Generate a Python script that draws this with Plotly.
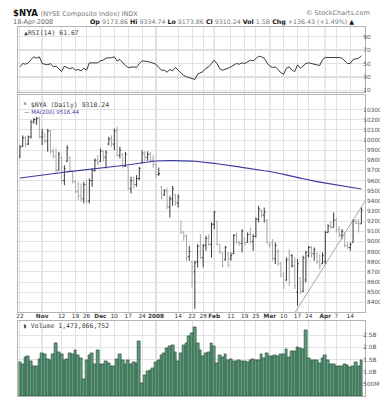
import pandas as pd
import plotly.graph_objects as go

# ---------------- data ----------------
holidays = ["2007-11-22", "2007-12-25", "2008-01-01", "2008-01-21", "2008-02-18", "2008-03-21"]
days = [d.strftime("%Y-%m-%d") for d in pd.bdate_range("2007-10-22", "2008-04-18")
        if d.strftime("%Y-%m-%d") not in holidays]
idx = list(range(len(days)))

opens = [9840, 9940, 10020, 9960, 10030, 10180, 10200, 10215, 10030, 10040,
         9990, 10090, 9890, 9840, 9700, 9830, 9600, 9790, 9830, 9687,
         9590, 9490, 9450, 9420, 9560, 9400, 9600, 9700, 9800, 9790,
         9890, 9830, 9960, 10010, 9960, 10090, 9850, 9860, 9740, 9736,
         9520, 9600, 9560, 9620, 9780, 9870, 9830, 9860, 9800, 9760,
         9660, 9540, 9460, 9500, 9340, 9420, 9460, 9380, 9200, 9090,
         9050, 8850, 8800, 8700, 8800, 8960, 8840, 8960, 9030, 8970,
         9170, 9200, 8970, 8890, 8820, 8880, 8830, 8880, 9060, 8990,
         8980, 9030, 8990, 9070, 9000, 9050, 9220, 9300, 9260, 9210,
         8960, 8990, 8830, 8900, 8780, 8680, 8620, 8820, 8860, 8760,
         8500, 8640, 8510, 8620, 8860, 8940, 8880, 8880, 8800, 8780,
         8800, 9090, 9150, 9140, 9210, 9120, 9060, 9080, 8960, 8940,
         8990, 9200, 9180, 9173.86]
highs = [9950, 10045, 10040, 10045, 10195, 10220, 10228, 10228, 10110, 10065,
         10110, 10097, 9916, 9916, 9883, 9834, 9752, 9949, 9834, 9687,
         9605, 9588, 9572, 9588, 9605, 9621, 9719, 9818, 9851, 9916,
         9900, 9900, 10031, 10047, 10113, 10129, 9933, 9867, 9883, 9736,
         9637, 9637, 9654, 9736, 9900, 9890, 9890, 9880, 9850, 9777,
         9728, 9547, 9515, 9531, 9449, 9547, 9465, 9465, 9203, 9105,
         9072, 8957, 8810, 8810, 8974, 9072, 8974, 9056, 9072, 9187,
         9302, 9203, 8974, 8892, 8957, 8892, 8892, 9072, 9088, 9006,
         9121, 9039, 9088, 9138, 9072, 9236, 9351, 9318, 9334, 9220,
         8990, 9023, 8990, 8925, 8794, 8695, 8842, 8925, 8875, 8842,
         8826, 8646, 8859, 8908, 8957, 8957, 8941, 8892, 8875, 8892,
         9105, 9170, 9203, 9285, 9236, 9154, 9121, 9088, 8990, 8990,
         9220, 9220, 9220, 9334.74]
lows = [9820, 9930, 9935, 9950, 10015, 10160, 10150, 10015, 9950, 9965,
        9885, 9867, 9818, 9670, 9700, 9572, 9555, 9785, 9687, 9572,
        9473, 9408, 9391, 9375, 9375, 9375, 9539, 9687, 9752, 9785,
        9785, 9719, 9949, 9933, 9900, 9834, 9818, 9719, 9736, 9506,
        9473, 9523, 9539, 9605, 9769, 9790, 9795, 9777, 9728, 9629,
        9646, 9416, 9449, 9318, 9236, 9351, 9351, 9334, 9072, 9006,
        8810, 8810, 8548, 8334, 8744, 8826, 8744, 8908, 8957, 8842,
        9121, 8957, 8875, 8744, 8810, 8744, 8810, 8875, 8974, 8957,
        8892, 8957, 8990, 8974, 8908, 9039, 9187, 9236, 9187, 8974,
        8941, 8810, 8777, 8761, 8646, 8531, 8613, 8564, 8744, 8531,
        8367, 8482, 8498, 8597, 8842, 8842, 8810, 8777, 8728, 8777,
        8777, 9088, 9121, 9138, 9088, 9039, 9023, 8941, 8925, 8908,
        8990, 9170, 9088, 9173.86]
closes = [9930, 10020, 9960, 10030, 10180, 10200, 10215, 10030, 10070, 9990,
          10090, 9890, 9840, 9700, 9860, 9600, 9720, 9920, 9700, 9590,
          9490, 9450, 9420, 9560, 9400, 9600, 9700, 9800, 9780, 9890,
          9830, 9880, 10010, 9960, 10090, 9850, 9900, 9740, 9860, 9520,
          9600, 9560, 9620, 9720, 9870, 9830, 9860, 9800, 9760, 9660,
          9670, 9430, 9500, 9340, 9420, 9520, 9380, 9440, 9090, 9050,
          8840, 8900, 8750, 8790, 8950, 8840, 8960, 9030, 8970, 9170,
          9290, 8970, 8900, 8760, 8940, 8770, 8860, 9060, 9000, 8980,
          9100, 8980, 9070, 9000, 9050, 9220, 9320, 9260, 9290, 8990,
          8970, 8830, 8960, 8780, 8660, 8560, 8820, 8600, 8760, 8560,
          8780, 8500, 8840, 8890, 8940, 8880, 8920, 8800, 8760, 8860,
          9090, 9150, 9140, 9210, 9120, 9060, 9100, 8960, 8940, 8970,
          9200, 9180, 9173.81, 9310.24]
ma200 = [9625, 9629, 9633, 9637, 9641, 9645, 9649, 9653, 9657, 9661, 9665,
         9668, 9671, 9674, 9677, 9680, 9683, 9686, 9689, 9692, 9695,
         9697, 9700, 9702, 9705, 9707, 9710, 9712, 9715, 9717, 9720,
         9724, 9728, 9732, 9736, 9740, 9744, 9748, 9752, 9756, 9760,
         9765, 9770, 9775, 9780, 9785, 9787, 9789, 9791, 9793, 9795,
         9795, 9796, 9796, 9797, 9797, 9797, 9798, 9798, 9798,
         9796, 9794, 9792, 9790, 9788, 9785, 9782, 9779, 9776, 9773, 9770,
         9766, 9763, 9759, 9755, 9752, 9748, 9744,
         9739, 9735, 9730, 9725, 9721, 9716, 9711,
         9708, 9704, 9701, 9697, 9694, 9690,
         9684, 9678, 9673, 9667, 9661, 9656, 9650,
         9644, 9637, 9631, 9624, 9618, 9611, 9605,
         9600, 9595, 9590, 9585, 9580, 9575, 9570,
         9565, 9560, 9555, 9550, 9545, 9540,
         9536, 9532, 9528, 9524, 9520, 9516.44]
rsi14 = [45, 50, 49, 51, 56, 60, 58, 60, 50, 49,
         48, 50, 45, 46, 42, 38, 46, 44, 42, 44,
         40, 41, 39, 43, 40, 51, 51, 52, 51, 54,
         55, 58, 58, 59, 60, 54, 56, 51, 47, 44,
         45, 45, 44, 50, 54, 54, 53, 52, 50, 49,
         44, 40, 40, 37, 41, 39, 44, 40, 35, 32,
         30, 29, 27, 26, 34, 36, 38, 43, 45, 50,
         55, 50, 42, 40, 41, 43, 45, 47, 50, 49,
         51, 50, 53, 55, 54, 58, 61, 60, 58, 51,
         46, 44, 45, 41, 36, 34, 43, 45, 40, 38,
         48, 43, 46, 50, 51, 50, 49, 48, 47, 56,
         59, 59, 59, 60, 60, 59, 58, 54, 50, 50,
         56, 57, 58, 61.67]
volume_b = [1.40, 1.32, 1.59, 1.63, 1.43, 1.22, 1.22, 1.53, 1.74, 1.73,
            1.53, 1.49, 1.70, 2.18, 1.81, 1.73, 1.49, 1.53, 1.77, 1.70,
            1.86, 1.67, 1.55, 0.67, 1.49, 1.67, 1.77, 1.32, 1.86, 1.32,
            1.32, 1.43, 1.36, 1.22, 1.22, 1.53, 1.73, 1.45, 1.32, 1.49,
            1.29, 1.40, 1.36, 2.25, 0.54, 0.85, 1.02, 1.04, 1.15, 1.40,
            1.49, 1.67, 1.77, 1.97, 2.04, 2.08, 1.81, 1.43, 1.77, 2.08,
            2.18, 2.45, 2.59, 2.82, 2.18, 1.90, 1.63, 1.77, 1.81, 2.18,
            2.04, 1.36, 1.67, 1.59, 1.73, 1.45, 1.53, 1.43, 1.43, 1.45,
            1.43, 1.43, 1.40, 1.49, 1.53, 1.45, 1.45, 1.70, 1.56, 1.77,
            1.63, 1.63, 1.67, 1.63, 1.70, 1.73, 1.94, 1.59, 1.84, 1.84,
            2.00, 1.97, 1.94, 2.72, 1.56, 1.49, 1.45, 1.45, 1.36, 1.56,
            1.67, 1.45, 1.29, 1.29, 1.22, 1.22, 1.22, 1.29, 1.26, 1.18,
            1.22, 1.40, 1.22, 1.474]

tick_dates = ["2007-10-22", "2007-11-01", "2007-11-12", "2007-11-19", "2007-11-26",
              "2007-12-03", "2007-12-10", "2007-12-17", "2007-12-24", "2008-01-02",
              "2008-01-14", "2008-01-22", "2008-01-28", "2008-02-01", "2008-02-11",
              "2008-02-19", "2008-02-25", "2008-03-03", "2008-03-10", "2008-03-17",
              "2008-03-24", "2008-04-01", "2008-04-07", "2008-04-14"]
tick_labels = ["22", "<b>Nov</b>", "12", "19", "26", "<b>Dec</b>", "10", "17", "24",
               "<b>2008</b>", "14", "22", "28", "<b>Feb</b>", "11", "19", "25",
               "<b>Mar</b>", "10", "17", "24", "<b>Apr</b>", "7", "14"]
month_dates = ["2007-11-01", "2007-12-03", "2008-01-02", "2008-02-01", "2008-03-03", "2008-04-01"]

price_ticks = list(range(8400, 10400, 100))
rsi_ticks = [10, 30, 50, 70, 90]
vol_ticks = [0.5, 1.0, 1.5, 2.0, 2.5]
vol_tick_labels = ["500M", "1.0B", "1.5B", "2.0B", "2.5B"]

trend_x = [99.0, 124.5]
trend_y = [8295, 9405]

assert len(days) == 124
for arr in (opens, highs, lows, closes, ma200, rsi14, volume_b):
    assert len(arr) == 124, len(arr)

# ---------------- figure ----------------
W, H = 388, 400
def px(x): return x / W
def py(y): return 1 - y / H

tickvals = [days.index(d) for d in tick_dates]
month_idx = [days.index(d) for d in month_dates]

prev = [opens[0]] + closes[:-1]
up = [i for i in idx if closes[i] >= prev[i]]
dn = [i for i in idx if closes[i] < prev[i]]

fig = go.Figure()

def ohlc_sub(sel, color):
    return go.Ohlc(x=[idx[i] for i in sel], open=[opens[i] for i in sel],
                   high=[highs[i] for i in sel], low=[lows[i] for i in sel],
                   close=[closes[i] for i in sel], xaxis="x", yaxis="y",
                   increasing=dict(line=dict(color=color, width=1)),
                   decreasing=dict(line=dict(color=color, width=1)),
                   tickwidth=0.45, hoverinfo="skip")

fig.add_trace(ohlc_sub(dn, "#a8a8a8"))
fig.add_trace(ohlc_sub(up, "#3a3a3a"))
fig.add_trace(go.Scatter(x=idx, y=ma200, mode="lines", xaxis="x", yaxis="y",
                         line=dict(color="#3b3b9e", width=1.1), hoverinfo="skip"))
fig.add_trace(go.Scatter(x=trend_x, y=trend_y, mode="lines", xaxis="x", yaxis="y",
                         line=dict(color="#909090", width=0.8), hoverinfo="skip"))
fig.add_trace(go.Scatter(x=idx, y=rsi14, mode="lines", xaxis="x2", yaxis="y2",
                         line=dict(color="#3a3a3a", width=1), hoverinfo="skip"))
fig.add_trace(go.Bar(x=idx, y=volume_b, xaxis="x3", yaxis="y3", width=1.0,
                     marker=dict(color="#5c9b7b", line=dict(color="#23412f", width=0.6)),
                     hoverinfo="skip"))

xdom = [px(8.5), px(357)]
xr = [-0.54, 124.36]
grid = "#e2e2e2"
border = "#b4b4b4"
tickfont = dict(family="DejaVu Sans", size=5.8, color="#555")

common_x = dict(domain=xdom, range=xr, tickvals=tickvals, ticktext=tick_labels,
                showgrid=True, gridcolor=grid, gridwidth=1, zeroline=False,
                showline=True, mirror=True, linecolor=border, linewidth=1,
                ticks="", tickangle=0,
                tickfont=dict(family="DejaVu Sans", size=5.8, color="#333"))
common_y = dict(side="right", showgrid=True, gridcolor=grid, zeroline=False,
                showline=True, mirror=True, linecolor=border, linewidth=1,
                ticks="", tickfont=tickfont, ticklabelstandoff=-4)

price_text = [("\u2007" + str(v)) if v < 10000 else str(v) for v in price_ticks]

fig.update_layout(
    width=W, height=H, margin=dict(l=0, r=0, t=0, b=0),
    paper_bgcolor="white", plot_bgcolor="white", showlegend=False,
    bargap=0,
    xaxis=dict(common_x, anchor="y", rangeslider=dict(visible=False), showticklabels=True,
               ticklabelstandoff=-2),
    xaxis2=dict(common_x, anchor="y2", showticklabels=False),
    xaxis3=dict(common_x, anchor="y3", showticklabels=False),
    yaxis=dict(common_y, domain=[py(305), py(87)], range=[8302, 10446],
               tickvals=price_ticks, ticktext=price_text),
    yaxis2=dict(common_y, domain=[py(84), py(19)], range=[7.5, 105],
                tickvals=rsi_ticks),
    yaxis3=dict(common_y, domain=[py(389), py(314)], range=[0, 3.07],
                tickvals=vol_ticks, ticktext=vol_tick_labels),
)

shapes = []
for xa, ya in (("x", "y"), ("x2", "y2"), ("x3", "y3")):
    for m in month_idx:
        shapes.append(dict(type="line", xref=xa, yref=ya + " domain", x0=m, x1=m, y0=0, y1=1,
                           line=dict(color="#b8b8b8", width=1), layer="below"))
for lvl, dash, col in ((70, "solid", "#8a8a8a"), (30, "solid", "#8a8a8a"), (50, "dashdot", "#9a9a9a")):
    shapes.append(dict(type="line", xref="x2 domain", yref="y2", x0=0, x1=1, y0=lvl, y1=lvl,
                       line=dict(color=col, width=1, dash=dash), layer="below"))
fig.update_layout(shapes=shapes)

def note(text, x, y, size=6.5, color="#333", anchor="left", family="DejaVu Sans"):
    fig.add_annotation(text=text, x=px(x), y=py(y), xref="paper", yref="paper",
                       xanchor=anchor, yanchor="middle", showarrow=False,
                       font=dict(family=family, size=size, color=color))

note("<b>$NYA</b> <span style='font-size:6.5px;color:#777'>(NYSE Composite Index) INDX</span>",
     1, 5.5, size=8.5, color="#111")
note("© StockCharts.com", 364, 5.5, size=6.5, color="#777", anchor="right")
note("18-Apr-2008", 1, 14.5, size=6.5, color="#666")
stats = ("<b>Op</b> <span style='color:#777'>9173.86</span> "
         "<b>Hi</b> <span style='color:#777'>9334.74</span> "
         "<b>Lo</b> <span style='color:#777'>9173.86</span> "
         "<b>Cl</b> <span style='color:#777'>9310.24</span> "
         "<b>Vol</b> <span style='color:#777'>1.5B</span> "
         "<b>Chg</b> <span style='color:#777'>+136.43 (+1.49%)</span> ▲")
note(stats, 348, 14.5, size=6.3, color="#111", anchor="right")
note("▲RSI(14) 61.67", 12, 25, size=6.5, color="#444", family="DejaVu Sans Mono")
note("ᴺ $NYA (Daily) 9310.24", 11, 97, size=6.5, color="#444", family="DejaVu Sans Mono")
note("<span style='color:#3b3b9e'>— MA(200) 9516.44</span>", 12, 104, size=5.5, color="#3b3b9e")
note("▮ Volume 1,473,866,752", 11, 319, size=6.5, color="#444", family="DejaVu Sans Mono")

fig.write_html("out.html")
